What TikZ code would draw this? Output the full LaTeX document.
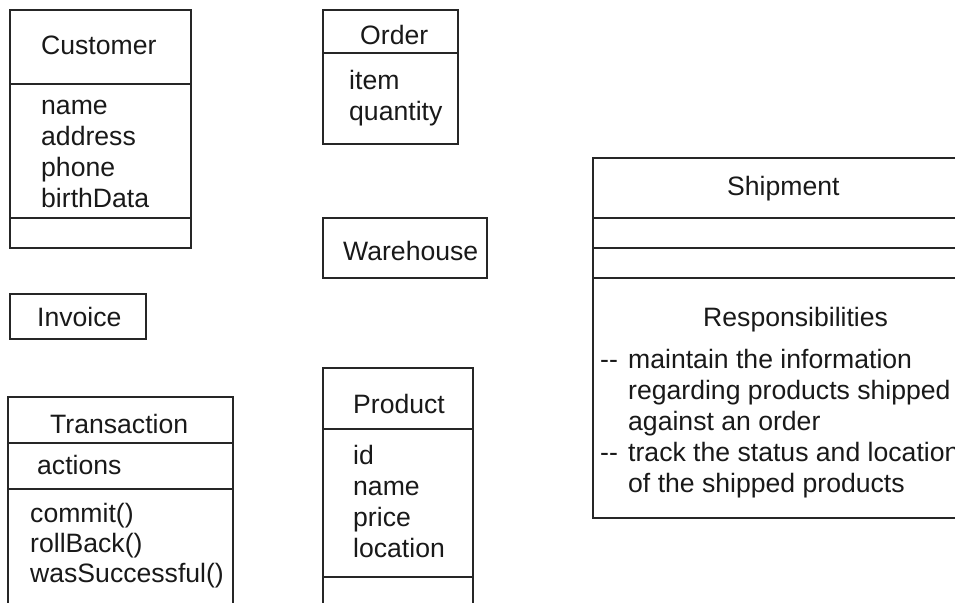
\documentclass[tikz,border=0pt]{standalone}
\usepackage{fontspec}
\setmainfont{Liberation Sans}
\begin{document}
\begin{tikzpicture}[x=1pt,y=-1pt,
  frame/.style={line width=1.6pt, draw=black!85},
  txt/.style={anchor=base west, inner sep=0pt, font=\fontsize{26.6}{31}\selectfont, text=black!90}]
\useasboundingbox (0,0) rectangle (955,602);
\clip (0,0) rectangle (955,602);

% Customer class
\draw[frame] (10,10) rectangle (191,248);
\draw[frame] (10,84) -- (191,84);
\draw[frame] (10,218) -- (191,218);
\node[txt] (custTitle) at (41,55) {Customer};
\node[txt] (custName)  at (41,114) {name};
\node[txt] (custAddr)  at (41,145) {address};
\node[txt] (custPhone) at (41,176) {phone};
\node[txt] (custBirth) at (41,207) {birthData};

% Order class
\draw[frame] (323,10) rectangle (458,144);
\draw[frame] (323,53) -- (458,53);
\node[txt] (ordTitle) at (360,45) {Order};
\node[txt] (ordItem)  at (349,89) {item};
\node[txt] (ordQty)   at (349,120) {quantity};

% Warehouse class
\draw[frame] (323,218) rectangle (487,278);
\node[txt] (whTitle) at (343,260) {Warehouse};

% Invoice class
\draw[frame] (10,294) rectangle (146,339);
\node[txt] (invTitle) at (37,326) {Invoice};

% Transaction class
\draw[frame] (8,397) rectangle (233,630);
\draw[frame] (8,443) -- (233,443);
\draw[frame] (8,489) -- (233,489);
\node[txt] (trTitle)  at (50,433) {Transaction};
\node[txt] (trAct)    at (37,474) {actions};
\node[txt] (trCommit) at (30,522) {commit()};
\node[txt] (trRoll)   at (30,552) {rollBack()};
\node[txt] (trWas)    at (30,582) {wasSuccessful()};

% Product class
\draw[frame] (323,368) rectangle (473,630);
\draw[frame] (323,429) -- (473,429);
\draw[frame] (323,577) -- (473,577);
\node[txt] (prTitle) at (353,413) {Product};
\node[txt] (prId)    at (353,464) {id};
\node[txt] (prName)  at (353,495) {name};
\node[txt] (prPrice) at (353,526) {price};
\node[txt] (prLoc)   at (353,557) {location};

% Shipment class with responsibilities compartment
\draw[frame] (593,158) rectangle (990,518);
\draw[frame] (593,218) -- (990,218);
\draw[frame] (593,248) -- (990,248);
\draw[frame] (593,278) -- (990,278);
\node[txt] (shTitle) at (727,195) {Shipment};
\node[txt] (shResp)  at (703,326) {Responsibilities};
\node[txt] (shDashA) at (600,368) {\mbox{-}\mbox{-}};
\node[txt] (shLineA) at (628,368) {maintain the information};
\node[txt] (shLineB) at (628,399) {regarding products shipped};
\node[txt] (shLineC) at (628,430) {against an order};
\node[txt] (shDashB) at (600,461) {\mbox{-}\mbox{-}};
\node[txt] (shLineD) at (628,461) {track the status and location};
\node[txt] (shLineE) at (628,492) {of the shipped products};
\end{tikzpicture}
\end{document}
